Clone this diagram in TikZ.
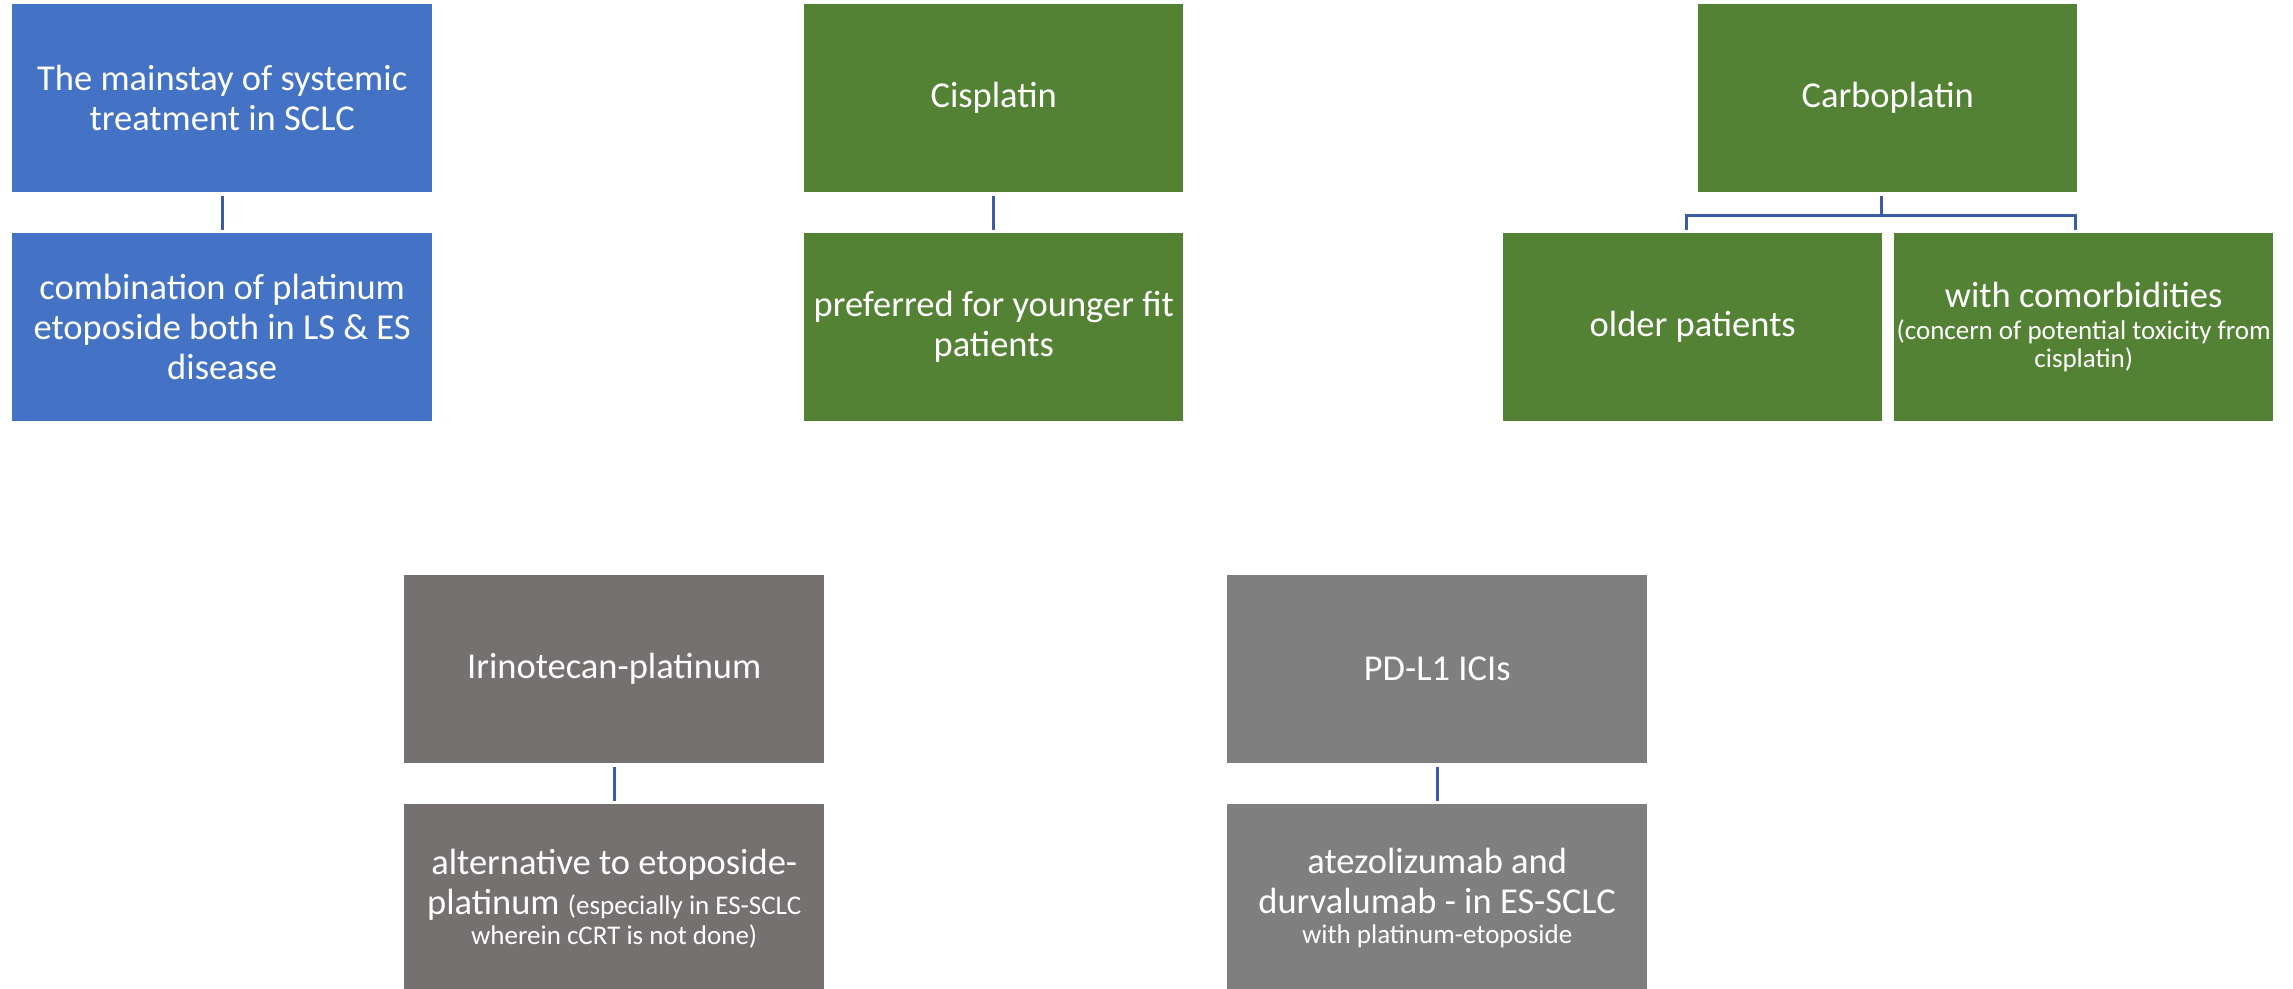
\documentclass[tikz,border=0pt]{standalone}
\usepackage{fontspec}
\setmainfont{Carlito}
\definecolor{boxblue}{HTML}{4472C4}
\definecolor{boxgreen}{HTML}{548235}
\definecolor{boxgreyA}{HTML}{767171}
\definecolor{boxgreyB}{HTML}{7F7F7F}
\definecolor{linkblue}{HTML}{3A5CA5}
\newcommand\notefont{\fontsize{27}{30}\selectfont}
\begin{document}
\begin{tikzpicture}[x=1pt,y=-1pt,
  box/.style={anchor=north west, inner sep=0pt, align=center, text=white,
    font=\fontsize{36.5}{40}\selectfont},
  wide/.style={minimum width=420pt},
  narrow/.style={minimum width=379pt},
  tall/.style={minimum height=188pt},
  link/.style={draw=linkblue, line width=3pt, shorten <=4pt, shorten >=3pt},
  branch/.style={draw=linkblue, line width=3pt, line join=miter}]
\useasboundingbox[fill=white] (0,0) rectangle (2293,988);

% first-line platinum doublet
\node[box, wide, tall, fill=boxblue] (main) at (12,4)
  {The mainstay of systemic\\treatment in SCLC};
\node[box, wide, tall, fill=boxblue] (combo) at (12,233)
  {combination of platinum\\etoposide both in LS \& ES\\disease};

% cisplatin
\node[box, narrow, tall, fill=boxgreen] (cis) at (804,4) {Cisplatin};
\node[box, narrow, tall, fill=boxgreen] (young) at (804,233)
  {preferred for younger fit\\patients};

% carboplatin and its two indications
\node[box, narrow, tall, fill=boxgreen] (carbo) at (1698,4) {Carboplatin};
\node[box, narrow, tall, fill=boxgreen] (older) at (1503,233) {older patients};
\node[box, narrow, tall, fill=boxgreen] (comorb) at (1894,233)
  {with comorbidities\\[-8pt]{\notefont(concern of potential toxicity from}\\[-12pt]{\notefont cisplatin)}};

% alternatives
\node[box, wide, tall, fill=boxgreyA] (irino) at (404,575) {Irinotecan-platinum};
\node[box, wide, tall, fill=boxgreyA] (altern) at (404,804)
  {alternative to etoposide-\\platinum {\notefont(especially in ES-SCLC}\\[-10pt]{\notefont wherein cCRT is not done)}};

\node[box, wide, tall, fill=boxgreyB] (pdl) at (1227,575) {PD-L1 ICIs};
\node[box, wide, tall, fill=boxgreyB] (atezo) at (1227,804)
  {atezolizumab and\\durvalumab - in ES-SCLC\\[-10pt]{\notefont with platinum-etoposide}};

% connectors
\draw[link] (main) -- (combo);
\draw[link] (cis) -- (young);
\draw[link] (irino) -- (altern);
\draw[link] (pdl) -- (atezo);

\coordinate (fork) at ([xshift=-6pt]carbo.south |- 0,215);
\draw[branch] ([xshift=-6pt,yshift=-4pt]carbo.south) -- (fork);
\draw[branch] ([xshift=-6pt,yshift=3pt]older.north) |- (fork) -| ([xshift=-8pt,yshift=3pt]comorb.north);
\end{tikzpicture}
\end{document}
